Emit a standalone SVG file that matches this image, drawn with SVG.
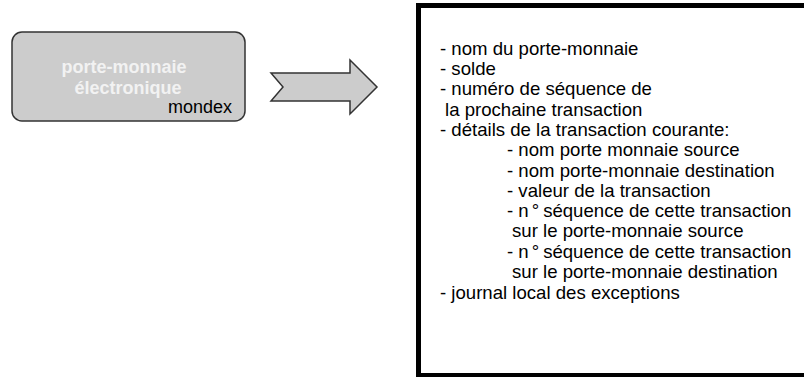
<svg xmlns="http://www.w3.org/2000/svg" width="804" height="377" viewBox="0 0 804 377">
<style>
.t{font-family:"Liberation Sans",Arial,sans-serif;font-size:18px;fill:#000}
.b{font-size:18.6px}
.w{font-family:"Liberation Sans",Arial,sans-serif;font-size:18px;font-weight:bold;fill:#f2f2f2}
</style>
<rect width="804" height="377" fill="#fff"/>
<g id="wallet">
<rect x="12" y="32" width="233" height="89" rx="10" fill="#cccccc" stroke="#333" stroke-width="1.5"/>
<text class="w" x="124" y="73" text-anchor="middle">porte-monnaie</text>
<text class="w" x="128" y="94" text-anchor="middle">électronique</text>
<text class="t" x="232" y="113" text-anchor="end">mondex</text>
</g>
<g id="connectors">
<polygon points="271,73 350,73 350,60 377,87 350,114 350,101 271,101 283,87" fill="#cccccc" stroke="#333" stroke-width="1.5" stroke-linejoin="miter"/>
</g>
<g id="details">
<rect x="418.5" y="5.5" width="500" height="370" fill="#fff" stroke="#000" stroke-width="5"/>
<text class="t b" x="440">
<tspan x="440" y="55">- nom du porte-monnaie</tspan>
<tspan x="440" y="75">- solde</tspan>
<tspan x="440" y="95">- numéro de séquence de</tspan>
<tspan x="445" y="116">la prochaine transaction</tspan>
<tspan x="440" y="136">- détails de la transaction courante:</tspan>
<tspan x="507" y="156">- nom porte monnaie source</tspan>
<tspan x="507" y="177">- nom porte-monnaie destination</tspan>
<tspan x="507" y="197">- valeur de la transaction</tspan>
<tspan x="507" y="217">- n</tspan><tspan dx="3">°</tspan><tspan dx="4">séquence de cette transaction</tspan>
<tspan x="512" y="237">sur le porte-monnaie source</tspan>
<tspan x="507" y="258">- n</tspan><tspan dx="3">°</tspan><tspan dx="4">séquence de cette transaction</tspan>
<tspan x="512" y="278">sur le porte-monnaie destination</tspan>
<tspan x="440" y="299">- journal local des exceptions</tspan>
</text>
</g>
</svg>
